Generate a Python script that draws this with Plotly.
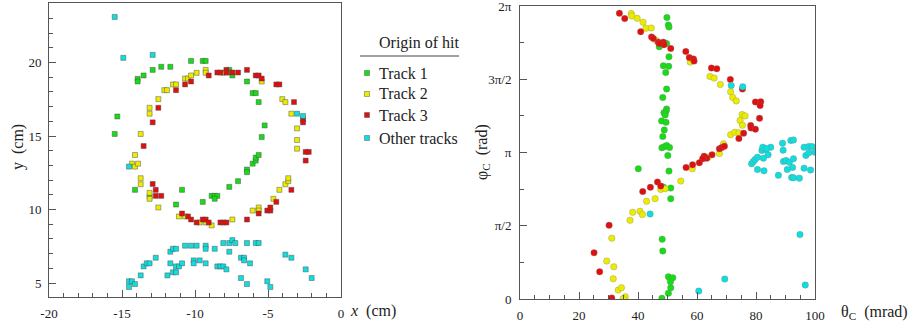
import plotly.graph_objects as go

# ---------------- Left panel: hit positions (cm) ----------------
t1_x = [-15.50, -15.32, -13.93, -13.93, -13.52, -12.90, -12.31, -11.69, -10.27, -9.47, -9.27,
        -7.65, -7.65, -7.44, -6.44, -6.05, -5.84, -5.64, -5.23, -5.43,
        -14.11, -13.11, -11.30, -10.89, -9.47, -8.86, -8.65, -8.47, -8.65, -7.65, -7.05,
        -6.44, -6.44, -6.05, -5.84, -5.84, -5.64]
t1_y = [15.14, 16.33, 18.89, 18.71, 19.12, 19.50, 19.71, 19.71, 20.11, 20.11, 20.11,
        19.50, 19.32, 19.12, 18.71, 17.92, 17.92, 17.31, 15.72, 14.93,
        11.34, 10.88, 10.34, 11.34, 10.52, 10.93, 10.93, 10.93, 10.73, 11.54, 11.93,
        12.72, 12.54, 13.12, 13.33, 13.53, 13.71]

t2_x = [-13.72, -13.11, -13.11, -12.51, -12.10, -11.92, -11.51, -11.30, -10.68, -10.48, -10.27,
        -9.89, -9.27, -9.27, -8.06, -5.43, -4.02, -3.81, -3.40, -3.01, -3.01, -3.01,
        -14.11, -14.32, -14.11, -13.90, -13.72, -13.72, -13.11, -13.11, -12.51, -11.10, -10.68,
        -9.68, -9.27, -8.86, -7.44, -6.05, -5.64, -5.64, -4.63, -4.22, -3.81, -3.61, -3.61]
t2_y = [15.14, 16.92, 16.52, 17.51, 18.12, 18.12, 18.51, 18.51, 18.91, 18.91, 19.12,
        19.30, 19.50, 19.30, 19.30, 18.71, 17.51, 17.31, 16.52, 15.52, 14.73, 14.14,
        13.71, 13.12, 12.92, 13.12, 12.13, 11.72, 11.13, 10.73, 10.14, 9.53, 9.53,
        9.12, 9.12, 8.92, 9.32, 9.93, 10.14, 9.93, 10.73, 11.34, 11.72, 11.93, 12.13]

t3_x = [-13.52, -12.90, -12.51, -11.30, -10.68, -10.27, -9.06, -8.47, -8.26, -7.85, -7.85,
        -7.44, -7.05, -6.44, -5.84, -5.64, -5.43, -4.43, -4.22, -3.22, -2.60, -2.60,
        -12.90, -12.69, -12.69, -12.31, -10.89, -10.48, -10.27, -9.89, -9.47, -9.27, -9.06,
        -8.26, -8.06, -7.85, -6.44, -5.64, -5.05, -4.84, -4.84, -4.43, -3.40, -2.42, -2.21, -2.42]
t3_y = [14.32, 15.93, 16.92, 18.12, 18.51, 18.71, 19.12, 19.32, 19.32, 19.50, 19.32,
        19.32, 19.32, 19.50, 19.12, 19.12, 18.91, 18.51, 18.51, 17.31, 16.13, 15.93,
        11.74, 11.34, 10.93, 10.93, 9.73, 9.53, 9.32, 9.12, 9.32, 9.32, 9.12,
        9.12, 9.12, 9.12, 9.32, 9.73, 9.93, 9.93, 10.14, 10.52, 11.34, 13.92, 13.92, 13.33]

oth_x = [-15.50, -14.91, -12.90, -3.01, -2.60, -14.52,
         -14.52, -14.32, -14.52, -14.11, -13.72, -13.52, -13.31, -13.11, -12.69, -11.89, -11.69,
         -11.51, -11.30, -11.69, -11.51, -11.30, -11.30, -11.10, -10.89, -10.68, -10.27, -9.89,
         -10.09, -10.09, -9.68, -9.27, -9.27, -9.27, -8.65, -8.47, -8.26, -8.06, -7.85, -8.06,
         -7.65, -7.44, -7.24, -7.65, -6.85, -6.64, -6.64, -6.23, -6.85, -6.44, -6.44, -5.84,
         -5.64, -5.05, -4.84, -3.81, -3.40, -2.42, -2.01]
oth_y = [23.10, 20.32, 20.52, 16.52, 16.36, 12.92,
         5.12, 5.12, 4.73, 4.93, 5.52, 6.13, 6.34, 6.34, 6.72, 5.52, 7.13,
         7.33, 7.33, 6.34, 5.73, 5.73, 6.13, 6.13, 6.34, 7.54, 7.54, 7.54,
         6.54, 6.34, 6.54, 7.54, 7.33, 6.34, 7.33, 6.13, 6.13, 6.13, 5.93, 7.72,
         7.72, 7.92, 7.72, 7.13, 6.72, 6.72, 6.54, 6.34, 5.34, 4.93, 7.72, 7.72,
         7.72, 5.12, 4.73, 6.93, 6.72, 5.93, 5.34]

# ---------------- Right panel: Cherenkov angles ----------------
# theta_C in mrad, phi_C in units of pi
r1_th = [49.8, 50.3, 50.5, 47.2, 49.7, 50.5, 48.6, 50.4, 49.4, 49.7, 48.4, 49.7, 49.5, 48.8, 49.2,
         48.0, 49.5, 48.9, 48.4, 48.1, 48.9, 49.7, 50.7, 50.1, 40.1, 50.5, 48.6, 51.1, 51.1,
         48.2, 48.4, 50.3, 51.8, 51.0, 51.1, 50.3, 48.1]
r1_ph = [1.921, 1.871, 1.857, 1.721, 1.744, 1.653, 1.592, 1.588, 1.546, 1.433, 1.376, 1.297, 1.282,
         1.272, 1.256, 1.215, 1.206, 1.154, 1.109, 1.032, 1.039, 1.048, 1.034, 0.980, 0.889, 0.873,
         0.764, 0.757, 0.685, 0.408, 0.327, 0.152, 0.145, 0.118, 0.077, 0.039, 0.005]

r2_th = [37.7, 37.9, 39.7, 41.7, 42.7, 44.5, 46.3, 57.7, 64.4, 65.8, 67.9, 71.4, 72.1, 73.3, 75.3,
         76.3, 74.6, 75.4, 71.4, 72.8, 74.2, 69.0, 67.6, 63.8, 58.4, 54.5, 47.7, 49.2, 45.8, 42.9,
         38.2, 40.7, 41.5, 37.3, 31.1, 29.4, 31.8, 31.6, 33.3, 34.4, 35.7, 35.0]
r2_ph = [1.948, 1.932, 1.916, 1.889, 1.848, 1.850, 1.762, 1.617, 1.519, 1.508, 1.465, 1.415, 1.376,
         1.352, 1.259, 1.250, 1.218, 1.186, 1.122, 1.138, 1.134, 1.059, 0.993, 0.968, 0.889, 0.805,
         0.748, 0.753, 0.685, 0.667, 0.592, 0.599, 0.576, 0.537, 0.415, 0.259, 0.220, 0.138, 0.061,
         0.077, 0.016, 0.003]

r3_th = [33.7, 35.5, 40.9, 44.6, 45.2, 46.9, 48.6, 48.8, 47.2, 51.1, 56.2, 57.4, 58.8, 59.0, 64.9,
         66.7, 71.3, 75.4, 79.8, 81.6, 81.4, 81.2, 78.2, 78.3, 79.8, 75.8, 74.2, 67.6, 68.4, 69.3,
         65.1, 63.3, 62.4, 61.9, 60.8, 58.5, 56.3, 46.6, 47.7, 44.2, 41.6, 30.2, 25.1, 27.0, 31.1]
r3_ph = [1.950, 1.914, 1.825, 1.789, 1.778, 1.753, 1.753, 1.735, 1.744, 1.710, 1.689, 1.648, 1.639,
         1.624, 1.576, 1.572, 1.499, 1.433, 1.345, 1.347, 1.320, 1.233, 1.184, 1.168, 1.159, 1.131,
         1.095, 1.025, 1.034, 1.043, 0.984, 0.961, 0.975, 0.957, 0.930, 0.916, 0.898, 0.798, 0.771,
         0.762, 0.733, 0.503, 0.315, 0.186, 0.007]

ro_th = [71.6, 75.5, 89.0, 91.8, 92.7, 96.3, 97.9, 99.0, 44.1, 60.6, 69.4, 94.9, 96.7,
         78.5, 79.1, 79.7, 80.5, 82.0, 83.4, 84.1, 85.0, 82.5, 80.5, 82.7, 87.6, 89.2, 89.3,
         90.2, 91.3, 92.7, 92.4, 90.6, 92.1, 92.7, 94.7, 96.3, 96.9, 97.9, 98.5, 100.0, 82.3, 83.6]
ro_ph = [1.458, 1.449, 1.063, 1.082, 1.086, 1.036, 1.041, 1.041, 0.580, 0.054, 0.136, 0.440, 0.095,
         0.923, 0.939, 0.952, 0.968, 1.014, 1.020, 0.984, 1.036, 0.961, 0.884, 0.875, 0.844, 1.016,
         0.939, 0.946, 0.934, 0.957, 0.898, 0.884, 0.830, 0.828, 0.825, 0.893, 0.980, 0.998, 0.880,
         1.002, 1.036, 1.027]

names = ["Track 1", "Track 2", "Track 3", "Other tracks"]
colors = ["#18dc18", "#ecec00", "#e01010", "#10dede"]

x_tickvals = [-20, -15, -10, -5, 0]
x_ticktext = ["-20", "-15", "-10", "-5", "0"]
y_tickvals = [5, 10, 15, 20]
th_tickvals = [0, 20, 40, 60, 80, 100]
phi_tickvals = [0, 0.5, 1, 1.5, 2]
phi_ticktext = ["0", "π/2", "π", "3π/2", "2π"]

W, H = 913, 324
FONT = "Liberation Serif, Times New Roman, serif"

fig = go.Figure()

left_sets = [(t1_x, t1_y), (t2_x, t2_y), (t3_x, t3_y), (oth_x, oth_y)]
right_sets = [(r1_th, r1_ph), (r2_th, r2_ph), (r3_th, r3_ph), (ro_th, ro_ph)]

for (xs, ys), c, n in zip(left_sets, colors, names):
    fig.add_trace(go.Scatter(x=xs, y=ys, mode="markers", name=n, showlegend=False,
                             xaxis="x", yaxis="y",
                             marker=dict(symbol="square", size=5, color=c,
                                         line=dict(color="rgba(70,70,70,0.55)", width=0.8))))
for (xs, ys), c, n in zip(right_sets, colors, names):
    fig.add_trace(go.Scatter(x=xs, y=ys, mode="markers", name=n, showlegend=False,
                             xaxis="x2", yaxis="y2",
                             marker=dict(symbol="circle", size=6.5, color=c,
                                         line=dict(color="rgba(120,120,120,0.5)", width=0.6))))

def px_x(p):
    return p / W

def px_y(p):
    return 1 - p / H

axis_common = dict(showgrid=False, zeroline=False, showline=True, linecolor="#555555",
                   linewidth=1, mirror=True, ticks="inside", tickcolor="#555555",
                   ticklen=7, tickwidth=1, ticklabeloverflow="allow",
                   tickfont=dict(family=FONT, size=13, color="#222222"))

fig.update_layout(
    width=W, height=H,
    margin=dict(l=0, r=0, t=0, b=0, autoexpand=False),
    paper_bgcolor="white", plot_bgcolor="white",
    showlegend=False,
    xaxis=dict(domain=[px_x(49), px_x(341)], range=[-20, 0], anchor="y",
               tickvals=x_tickvals, ticktext=x_ticktext, ticklabelstandoff=4,
               minor=dict(dtick=1, tick0=0, ticks="inside", ticklen=4, tickcolor="#555555"),
               **axis_common),
    yaxis=dict(domain=[px_y(297), px_y(3)], range=[4.05, 24.05], anchor="x",
               tickvals=y_tickvals, ticklabelstandoff=4,
               minor=dict(dtick=1, tick0=0, ticks="inside", ticklen=4, tickcolor="#555555"),
               **axis_common),
    xaxis2=dict(domain=[px_x(520), px_x(815)], range=[0, 100], anchor="y2",
                tickvals=th_tickvals, ticklabelstandoff=4,
                minor=dict(dtick=5, tick0=0, ticks="inside", ticklen=4, tickcolor="#555555"),
                **axis_common),
    yaxis2=dict(domain=[px_y(299), px_y(6)], range=[0, 2], anchor="x2",
                tickvals=phi_tickvals, ticktext=phi_ticktext, ticklabelstandoff=5,
                minor=dict(dtick=0.25, tick0=0, ticks="inside", ticklen=4, tickcolor="#555555"),
                **axis_common),
)

ann = []
title_font = dict(family=FONT, size=16, color="#222222")
ann.append(dict(text="<i>x</i>  (cm)", x=px_x(348), y=px_y(311), xref="paper", yref="paper",
                xanchor="left", yanchor="middle", showarrow=False, font=title_font))
ann.append(dict(text="y  (cm)", x=px_x(18), y=px_y(147), xref="paper", yref="paper",
                xanchor="center", yanchor="middle", textangle=-90, showarrow=False, font=title_font))
ann.append(dict(text="φ<sub>C</sub>  (rad)", x=px_x(482), y=px_y(152), xref="paper", yref="paper",
                xanchor="center", yanchor="middle", textangle=-90, showarrow=False, font=title_font))
ann.append(dict(text="θ<sub>C</sub>  (mrad)", x=px_x(839), y=px_y(312), xref="paper", yref="paper",
                xanchor="left", yanchor="middle", showarrow=False, font=title_font))

# Legend (manual)
ann.append(dict(text="Origin of hit", x=px_x(377), y=px_y(43), xref="paper", yref="paper",
                xanchor="left", yanchor="middle", showarrow=False, font=title_font))
shapes = [dict(type="line", xref="paper", yref="paper", x0=px_x(360), x1=px_x(459),
               y0=px_y(56), y1=px_y(56), line=dict(color="#444444", width=1))]
leg_y = [73, 94, 115, 138]
for n, c, ly in zip(names, colors, leg_y):
    ann.append(dict(text=n, x=px_x(377), y=px_y(ly), xref="paper", yref="paper",
                    xanchor="left", yanchor="middle", showarrow=False, font=title_font))
    shapes.append(dict(type="rect", xref="paper", yref="paper",
                       x0=px_x(364.5), x1=px_x(369.5), y0=px_y(ly + 2.5), y1=px_y(ly - 2.5),
                       fillcolor=c, line=dict(color="rgba(70,70,70,0.55)", width=0.8)))

fig.update_layout(annotations=ann, shapes=shapes)

fig.write_html("out.html")
